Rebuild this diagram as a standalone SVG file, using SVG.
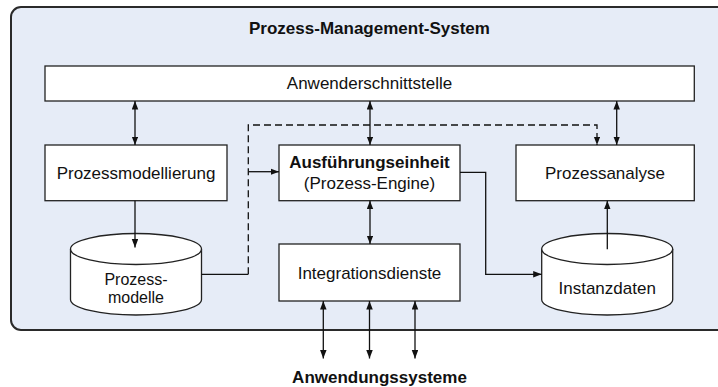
<svg xmlns="http://www.w3.org/2000/svg" width="718" height="387" viewBox="0 0 718 387">
  <style>
    .box { fill: #ffffff; stroke: #222222; stroke-width: 1.3; }
    .lbl { font-family: "Liberation Sans", Arial, sans-serif; font-size: 17px; fill: #111111; text-anchor: middle; }
    .bold { font-weight: bold; }
    .small { font-size: 16px; }
    .ln { fill: none; stroke: #111111; stroke-width: 1.3; }
    .dash { stroke-dasharray: 7 4; }
  </style>
  <defs>
    <marker id="ah" markerWidth="9" markerHeight="7" refX="8.5" refY="3.25" orient="auto-start-reverse" markerUnits="userSpaceOnUse">
      <path d="M0,0 L8.5,3.25 L0,6.5 Z" fill="#111111"/>
    </marker>
  </defs>

  <!-- system boundary -->
  <g id="system">
    <rect x="11" y="7" width="720" height="323" rx="10" ry="10" fill="#e6ecf7" stroke="#2a2a2a" stroke-width="2"/>
    <text class="lbl bold" x="369.5" y="33.5">Prozess-Management-System</text>
  </g>

  <g id="anwenderschnittstelle">
    <rect class="box" x="45" y="66" width="649.3" height="35"/>
    <text class="lbl" x="369.5" y="89">Anwenderschnittstelle</text>
  </g>

  <g id="prozessmodellierung">
    <rect class="box" x="45" y="145" width="182" height="55.7"/>
    <text class="lbl" x="136" y="178.5">Prozessmodellierung</text>
  </g>

  <g id="ausfuehrungseinheit">
    <rect class="box" x="279" y="145" width="181" height="55.7"/>
    <text class="lbl bold" x="369.5" y="167.5">Ausführungseinheit</text>
    <text class="lbl" x="369.5" y="189">(Prozess-Engine)</text>
  </g>

  <g id="prozessanalyse">
    <rect class="box" x="516" y="145" width="178.3" height="55.7"/>
    <text class="lbl" x="605" y="178.5">Prozessanalyse</text>
  </g>

  <g id="integrationsdienste">
    <rect class="box" x="279" y="244" width="181" height="57"/>
    <text class="lbl" x="369.5" y="278.5">Integrationsdienste</text>
  </g>

  <g id="prozessmodelle">
    <path class="box" d="M70.5,249 A65.5,15.5 0 0 1 201.5,249 L201.5,299.5 A65.5,15.5 0 0 1 70.5,299.5 Z"/>
    <path class="box" fill="none" d="M70.5,249 A65.5,15.5 0 0 0 201.5,249"/>
    <text class="lbl small" x="136" y="284.5">Prozess-</text>
    <text class="lbl small" x="136" y="302.5">modelle</text>
  </g>

  <g id="instanzdaten">
    <path class="box" d="M541.7,249 A65.5,15.5 0 0 1 672.7,249 L672.7,299.5 A65.5,15.5 0 0 1 541.7,299.5 Z"/>
    <path class="box" fill="none" d="M541.7,249 A65.5,15.5 0 0 0 672.7,249"/>
    <text class="lbl" x="607.2" y="294">Instanzdaten</text>
  </g>

  <g id="anwendungssysteme">
    <text class="lbl bold" x="379.5" y="383">Anwendungssysteme</text>
  </g>

  <g id="connectors">
    <!-- user interface links -->
    <line class="ln" x1="135" y1="101" x2="135" y2="145" marker-start="url(#ah)" marker-end="url(#ah)"/>
    <line class="ln" x1="370" y1="101" x2="370" y2="145" marker-start="url(#ah)" marker-end="url(#ah)"/>
    <line class="ln" x1="616.7" y1="101" x2="616.7" y2="145" marker-start="url(#ah)" marker-end="url(#ah)"/>
    <!-- modelling stores models -->
    <line class="ln" x1="135" y1="200.7" x2="135" y2="247.5" marker-end="url(#ah)"/>
    <!-- models feed engine and analysis -->
    <line class="ln" x1="201.5" y1="274.3" x2="248.3" y2="274.3"/>
    <path class="ln dash" d="M248.3,274.3 V125 H597 V145" marker-end="url(#ah)"/>
    <line class="ln" x1="248.3" y1="171.7" x2="279" y2="171.7" marker-end="url(#ah)"/>
    <!-- engine and integration -->
    <line class="ln" x1="370" y1="200.7" x2="370" y2="244" marker-start="url(#ah)" marker-end="url(#ah)"/>
    <!-- engine writes instance data -->
    <path class="ln" d="M460,172.3 H485.7 V274.3 H541.7" marker-end="url(#ah)"/>
    <!-- instance data to analysis -->
    <line class="ln" x1="607.3" y1="249.3" x2="607.3" y2="200.7" marker-end="url(#ah)"/>
    <!-- application systems -->
    <line class="ln" x1="323.3" y1="301" x2="323.3" y2="358.5" marker-start="url(#ah)" marker-end="url(#ah)"/>
    <line class="ln" x1="369.5" y1="301" x2="369.5" y2="358.5" marker-start="url(#ah)" marker-end="url(#ah)"/>
    <line class="ln" x1="415" y1="301" x2="415" y2="358.5" marker-start="url(#ah)" marker-end="url(#ah)"/>
  </g>
</svg>
